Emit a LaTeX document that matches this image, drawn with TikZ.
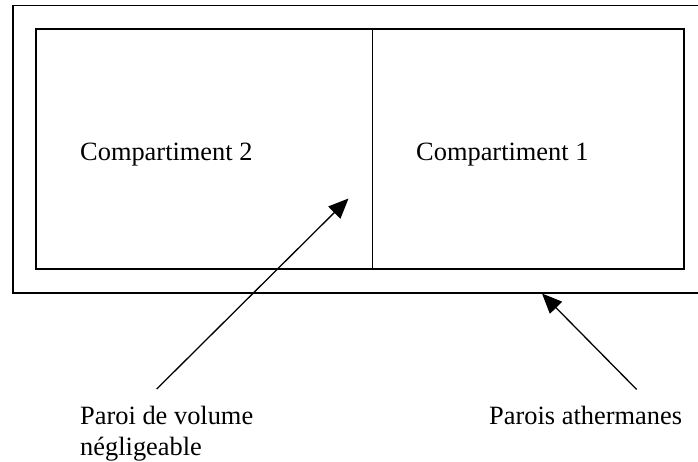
\documentclass[tikz,border=0pt]{standalone}
\usepackage{fontspec}
\setmainfont{Liberation Serif}
\usepackage{tikz}
\usetikzlibrary{arrows.meta}
\tikzset{paroi/.style={
    draw=black,
    line width=1.8pt}}
\tikzset{cloison/.style={
    draw=black,
    line width=1.3pt}}
\tikzset{etiquette/.style={
    anchor=base west,
    inner sep=0pt,
    align=left,
    font=\fontsize{26.4}{31}\selectfont}}
\tikzset{fleche/.style={
    draw=black,
    line width=1.3pt,
    -{Triangle[length=20pt,width=17pt]}}}

\begin{document}
\begin{tikzpicture}[x=1pt,y=-1pt]
\useasboundingbox (0,0) rectangle (698,461);
	\coordinate (E1) at (698,5.5);
\coordinate (E2) at (12.7,5.5);
\coordinate (E3) at (12.7,293);
\coordinate (E4) at (698,293);
\coordinate (I1) at (36,29.3);
\coordinate (I2) at (684,269.3);
\coordinate (C1) at (372.5,29.3);
\coordinate (C2) at (372.5,269.3);

% enceinte et compartiments
\path[paroi] (E1) -- (E2) -- (E3) -- (E4);
\path[paroi] (I1) rectangle (I2);
\path[cloison] (C1) -- (C2);

	\node[etiquette] (comp2) at (80,160) {Compartiment 2};
	\node[etiquette] (comp1) at (416,160) {Compartiment 1};
	\node[etiquette] (lcloison) at (80,455) {Paroi de volume\\négligeable};
	\node[etiquette] (lparois) at (489,424) {Parois athermanes};

	\coordinate (t1) at (156.7,389);
\coordinate (p1) at (348.5,198.5);
\coordinate (t2) at (636.7,389.5);
\coordinate (p2) at (542,293.5);

	\path[fleche] (t1) -- (p1);
	\path[fleche] (t2) -- (p2);
  
\end{tikzpicture}
\end{document}
